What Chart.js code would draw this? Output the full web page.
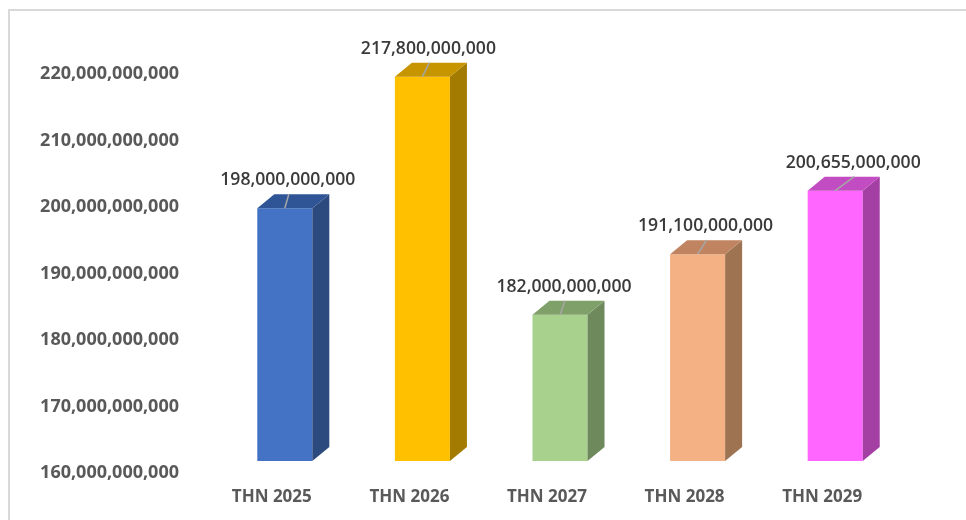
<!DOCTYPE html>
<html>
<head>
<meta charset="utf-8">
<script src="https://cdn.jsdelivr.net/npm/chart.js@4"></script>
<style>
  html, body { margin: 0; padding: 0; background: #ffffff; }
  #wrap { width: 966px; height: 520px; position: relative; }
</style>
</head>
<body>
<div id="wrap"><canvas id="c" width="966" height="520"></canvas></div>
<script>
// Categories and values
const categories = ['THN 2025', 'THN 2026', 'THN 2027', 'THN 2028', 'THN 2029'];
const values = [198000000000, 217800000000, 182000000000, 191100000000, 200655000000];
const yTicks = [160000000000, 170000000000, 180000000000, 190000000000, 200000000000, 210000000000, 220000000000];

// Face colours of each block: front, top, side
const frontColors = ['#4472C4', '#FFC000', '#A9D18E', '#F4B183', '#FF66FF'];
const topColors   = ['#2F5597', '#C69500', '#80A06A', '#C08560', '#C24DC2'];
const sideColors  = ['#2C4A7E', '#A37B00', '#6E8A5C', '#9E7352', '#A43FA4'];

const fmt = v => v.toLocaleString('en-US');

// Depth of the extruded blocks
const DEPTH_X = 17, DEPTH_Y = 14;
// Horizontal nudge of each value label from the block centre
const labelNudge = [3, 6, 4, 8, 18];

const blockPlugin = {
  id: 'blocks',
  beforeDraw(chart) {
    const ctx = chart.ctx;
    ctx.save();
    ctx.strokeStyle = '#D9D9D9';
    ctx.lineWidth = 2;
    ctx.beginPath();
    ctx.moveTo(9, 520);
    ctx.lineTo(9, 10);
    ctx.lineTo(966, 10);
    ctx.stroke();
    ctx.restore();
  },
  afterDatasetsDraw(chart) {
    const ctx = chart.ctx;
    const meta = chart.getDatasetMeta(0);
    const floor = chart.scales.y.getPixelForValue(chart.scales.y.min);
    ctx.save();
    meta.data.forEach((bar, i) => {
      const w = bar.width;
      const l = bar.x - w / 2, r = bar.x + w / 2;
      const top = bar.y, base = Math.min(bar.base, floor);
      // side face
      ctx.fillStyle = sideColors[i];
      ctx.beginPath();
      ctx.moveTo(r, top);
      ctx.lineTo(r + DEPTH_X, top - DEPTH_Y);
      ctx.lineTo(r + DEPTH_X, base - DEPTH_Y);
      ctx.lineTo(r, base);
      ctx.closePath();
      ctx.fill();
      // top face
      ctx.fillStyle = topColors[i];
      ctx.beginPath();
      ctx.moveTo(l, top);
      ctx.lineTo(l + DEPTH_X, top - DEPTH_Y);
      ctx.lineTo(r + DEPTH_X, top - DEPTH_Y);
      ctx.lineTo(r, top);
      ctx.closePath();
      ctx.fill();
    });
    ctx.restore();
  },
  afterDraw(chart) {
    const ctx = chart.ctx;
    const meta = chart.getDatasetMeta(0);
    ctx.save();
    ctx.font = '600 17.6px "Open Sans"';
    ctx.textAlign = 'center';
    ctx.textBaseline = 'middle';
    meta.data.forEach((bar, i) => {
      const lx = bar.x + labelNudge[i];
      const ly = bar.y - 28;
      // leader line
      ctx.strokeStyle = '#A6A6A6';
      ctx.lineWidth = 1.5;
      ctx.beginPath();
      ctx.moveTo(bar.x, bar.y);
      ctx.lineTo(lx + 1, ly + 14);
      ctx.stroke();
      ctx.fillStyle = '#3A3A3A';
      ctx.fillText(fmt(values[i]), lx, ly);
    });
    ctx.restore();
  }
};

new Chart(document.getElementById('c'), {
  type: 'bar',
  data: {
    labels: categories,
    datasets: [{
      data: values,
      backgroundColor: frontColors,
      borderWidth: 0,
      barPercentage: 0.4,
      categoryPercentage: 1.0
    }]
  },
  options: {
    responsive: false,
    animation: false,
    events: [],
    layout: { padding: { top: 62, right: 62, bottom: 0, left: 0 } },
    plugins: { legend: { display: false }, tooltip: { enabled: false } },
    scales: {
      x: {
        grid: { display: false, drawTicks: false },
        border: { display: false },
        ticks: {
          color: '#595959',
          font: { family: '"Open Sans"', size: 17, weight: 'bold' },
          padding: 26,
          labelOffset: -13
        },
        afterFit(s) { s.height = 59; }
      },
      y: {
        min: yTicks[0],
        max: yTicks[yTicks.length - 1],
        grid: { display: false, drawTicks: false },
        border: { display: false },
        afterBuildTicks(s) { s.ticks = yTicks.map(v => ({ value: v })); },
        ticks: {
          color: '#595959',
          font: { family: '"Open Sans"', size: 18, weight: 'bold' },
          padding: 37,
          labelOffset: 12,
          callback: v => fmt(v)
        },
        afterFit(s) { s.width = 216; }
      }
    }
  },
  plugins: [blockPlugin]
});
</script>
</body>
</html>
